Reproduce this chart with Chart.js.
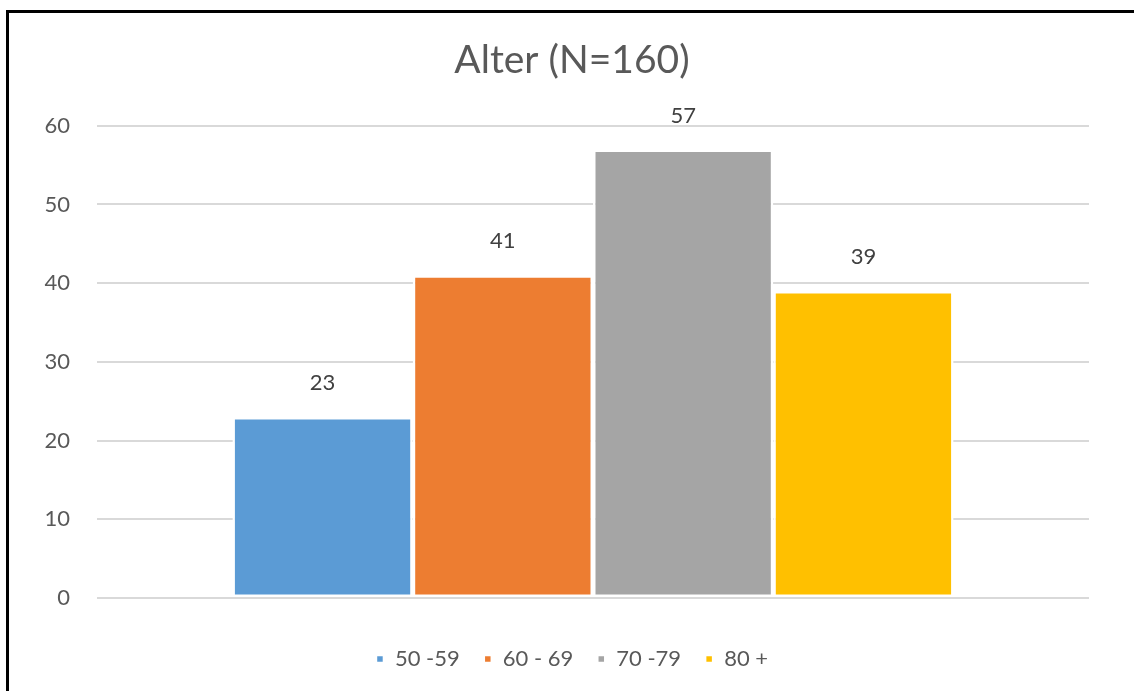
<!DOCTYPE html>
<html>
<head>
<meta charset="utf-8">
<script src="https://cdn.jsdelivr.net/npm/chart.js@4/dist/chart.umd.min.js"></script>
<style>
  html, body { margin: 0; padding: 0; background: #fff; overflow: hidden; }
  #wrap { position: relative; width: 1134px; height: 691px; }
  #frame {
    position: absolute; left: 6px; top: 10px; right: -20px; bottom: -20px;
    border-left: 3px solid #000; border-top: 3px solid #000;
    pointer-events: none;
  }
  canvas { position: absolute; left: 0; top: 0; }
</style>
</head>
<body>
<div id="wrap">
  <canvas id="chart" width="1134" height="691"></canvas>
  <div id="frame"></div>
</div>
<script>
// Age groups and respondent counts (N = 160)
const ageGroups = ['50 -59', '60 - 69', '70 -79', '80 +'];
const counts = [23, 41, 57, 39];
const groupColors = ['#5B9BD5', '#ED7D31', '#A5A5A5', '#FFC000'];
const yTicks = [0, 10, 20, 30, 40, 50, 60];
const chartTitle = 'Alter (N=160)';

const FONT = "Lato, 'Open Sans', 'DejaVu Sans', sans-serif";
const TEXT = '#595959';

// Writes each bar's value above it
const valueLabels = {
  id: 'valueLabels',
  afterDatasetsDraw(chart) {
    const ctx = chart.ctx;
    ctx.save();
    ctx.font = '22px ' + FONT;
    ctx.fillStyle = '#404040';
    ctx.textAlign = 'center';
    ctx.textBaseline = 'middle';
    chart.data.datasets.forEach((ds, i) => {
      const meta = chart.getDatasetMeta(i);
      meta.data.forEach((bar, j) => {
        ctx.fillText(String(ds.data[j]), bar.x, bar.y - 34);
      });
    });
    ctx.restore();
  }
};

new Chart(document.getElementById('chart'), {
  type: 'bar',
  data: {
    labels: [''],
    datasets: ageGroups.map((g, i) => ({
      label: g,
      data: [counts[i]],
      backgroundColor: groupColors[i],
      borderColor: '#ffffff',
      borderWidth: 2.5,
      borderSkipped: false,
      categoryPercentage: 0.727,
      barPercentage: 1.0,
      yAxisID: 'y'
    }))
  },
  options: {
    responsive: false,
    animation: false,
    devicePixelRatio: 1,
    layout: { padding: { left: 40, right: 30, top: 0, bottom: 11 } },
    plugins: {
      title: {
        display: true,
        text: chartTitle,
        color: TEXT,
        font: { family: FONT, size: 39, weight: 'normal' },
        padding: { top: 37, bottom: 42 }
      },
      legend: {
        display: true,
        position: 'bottom',
        labels: {
          color: TEXT,
          font: { family: FONT, size: 22 },
          boxWidth: 8,
          boxHeight: 8,
          padding: 24
        }
      },
      tooltip: { enabled: false }
    },
    scales: {
      x: {
        afterFit(scale) { scale.height = 26; },
        ticks: { display: false },
        grid: { display: false },
        border: { display: false }
      },
      y: {
        position: 'left',
        min: 0,
        max: 60,
        afterFit(scale) { scale.width = 57; },
        afterBuildTicks(scale) { scale.ticks = yTicks.map(v => ({ value: v })); },
        ticks: {
          color: TEXT,
          font: { family: FONT, size: 22 },
          padding: 27
        },
        grid: { color: '#d9d9d9', lineWidth: 2, drawTicks: false },
        border: { display: false }
      },
      // empty right-hand margin of the plot
      yRight: {
        position: 'right',
        min: 0,
        max: 60,
        afterFit(scale) { scale.width = 15; },
        ticks: { display: false },
        grid: { display: false },
        border: { display: false }
      }
    }
  },
  plugins: [valueLabels]
});
</script>
</body>
</html>
